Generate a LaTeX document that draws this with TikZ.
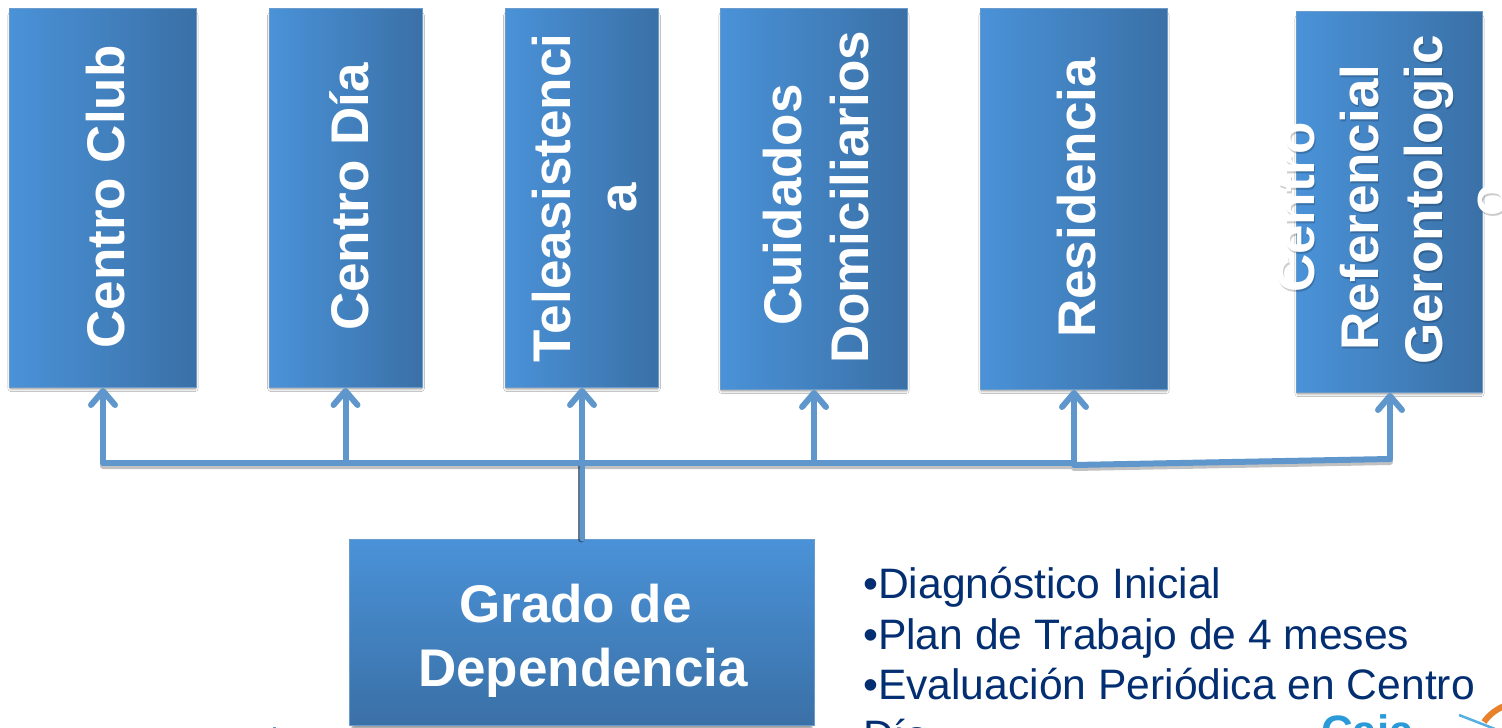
\documentclass[tikz,border=0pt]{standalone}
\usepackage{fontspec}
\setmainfont{Liberation Sans}
\usetikzlibrary{shadows,shadows.blur,arrows.meta}
\definecolor{boxL}{HTML}{4A92D8}
\definecolor{boxR}{HTML}{3A70A6}
\definecolor{boxEdge}{HTML}{6A9BCB}
\definecolor{lineBlue}{HTML}{5F97CC}
\definecolor{navy}{HTML}{032F72}
\definecolor{logoBlue}{HTML}{2A9BD8}
\definecolor{logoOrange}{HTML}{E8812C}
\tikzset{
  x=1pt,y=-1pt,
  boxbase/.style={draw=boxEdge,line width=1pt,inner sep=0pt,
    blur shadow={shadow xshift=0pt,shadow yshift=-4pt,shadow scale=0.985,shadow blur radius=3pt,shadow blur steps=6,shadow opacity=50}},
  hbox/.style={boxbase,left color=boxL,right color=boxR},
  vbox/.style={boxbase,top color=boxL,bottom color=boxR},
  vlabel/.style={rotate=90,text=white,align=center,inner sep=0pt,
    font=\fontsize{53}{64}\selectfont\bfseries},
  wide/.style={font=\fontsize{53}{66.5}\selectfont\bfseries},
  conn/.style={draw=lineBlue,line width=6pt,line cap=round,line join=round},
  connarrow/.style={conn,-{Straight Barb[length=14pt,width=24pt,line width=6pt,round]}},
}
\newcommand{\trailsp}[1]{\mbox{#1\hspace{15pt}}}
\begin{document}
\begin{tikzpicture}
\useasboundingbox (0,0) rectangle (1502,728);
\clip (0,0) rectangle (1502,728);
\fill[white] (0,0) rectangle (1502,728);
% boxes
\node[hbox,minimum width=187pt,minimum height=379pt] (b1) at (103,198) {};
\node[hbox,minimum width=153pt,minimum height=379pt] (b2) at (346,198) {};
\node[hbox,minimum width=153pt,minimum height=379pt] (b3) at (582,198) {};
\node[hbox,minimum width=187pt,minimum height=381pt] (b4) at (814,199) {};
\node[hbox,minimum width=187pt,minimum height=381pt] (b5) at (1074,199) {};
\node[hbox,minimum width=186pt,minimum height=381pt] (b6) at (1389.5,202) {};
\node[vbox,minimum width=465pt,minimum height=186pt] (gd) at (582,632.5) {};
% connector junctions
\coordinate (j1) at (103,463);
\coordinate (j2) at (345.5,463);
\coordinate (j3) at (582,463);
\coordinate (j4) at (814,463);
\coordinate (j5) at (1074,463);
\coordinate (j5b) at (1074,465);
\coordinate (j6) at (1390,459);
% connector shadows
\begin{scope}[transparency group,opacity=.3]
\draw[conn,draw=black!80,line width=6pt] ([yshift=-3pt]j1) -- ([yshift=-3pt]j5);
\draw[conn,draw=black!80,line width=6pt] ([yshift=-3pt]j5b) -- ([yshift=-3pt]j6);
\end{scope}
\draw[conn,draw=black!60!lineBlue,line width=7pt,opacity=.7] ([xshift=-1pt]gd.north) -- ([xshift=-1pt]j3);
% connectors
\draw[conn,line width=5pt] (gd.north) -- (j3);
\draw[conn] (j1) -- (j5);
\draw[conn] (j5b) -- (j6);
\draw[connarrow] (j1) -- (j1 |- b1.south);
\draw[connarrow] (j2) -- (j2 |- b2.south);
\draw[connarrow] (j3) -- (j3 |- b3.south);
\draw[connarrow] (j4) -- (j4 |- b4.south);
\draw[connarrow] (j5) -- (j5 |- b5.south);
\draw[connarrow] (j6) -- (j6 |- b6.south);
% labels
\node[vlabel] (t1) at (106,197) {Centro Club};
\node[vlabel] (t2) at (349,197) {Centro Día};
\node[vlabel,wide] (t3) at (584.5,198) {Teleasistenci\\a};
\node[vlabel,wide] (t4) at (816,197.5) {\trailsp{Cuidados}\\Domiciliarios};
\node[vlabel] (t5) at (1077,198) {Residencia};
\node[vlabel,text=black,opacity=.2] (t6s) at (1393,202) {\trailsp{Centro}\\\trailsp{Referencial}\\Gerontologic\\o};
\node[vlabel] (t6) at (1392,200) {\trailsp{Centro}\\\trailsp{Referencial}\\Gerontologic\\o};
\node[text=white,align=center,inner sep=0pt,font=\fontsize{53}{63.5}\selectfont\bfseries] (gdt) at (583,641) {\trailsp{Grado de}\\Dependencia};
\node[text=navy,align=left,inner sep=0pt,anchor=north west,font=\fontsize{42.6}{50.5}\selectfont] (list) at (863,567) {•Diagnóstico Inicial\\•Plan de Trabajo de 4 meses\\•Evaluación Periódica en Centro\\Día};
% logo
\node[text=logoBlue,anchor=base west,inner sep=0pt,font=\fontsize{44}{50}\selectfont\bfseries] (logo) at (1321,746) {Caja};
\draw[line width=2.5pt,draw=logoBlue!80] (1459,715) -- (1495,729);
\draw[line width=6pt,draw=logoOrange] (1484,722) .. controls (1488,716) and (1495,710) .. (1504,706);
\fill[lineBlue] (273,726.5) rectangle (276,728);
\end{tikzpicture}
\end{document}
